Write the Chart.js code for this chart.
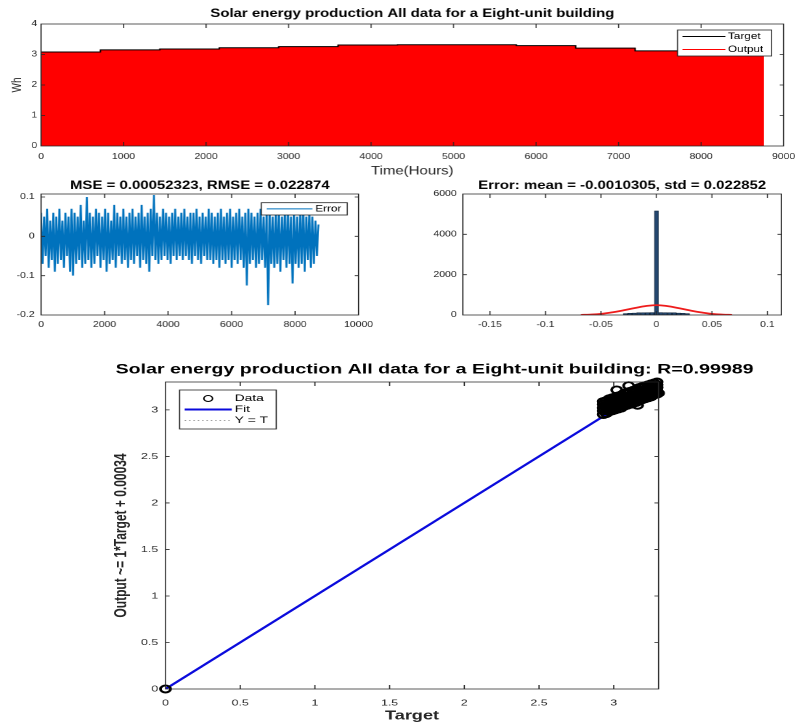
<!DOCTYPE html>
<html><head><meta charset="utf-8">
<script src="https://cdn.jsdelivr.net/npm/chart.js@4/dist/chart.umd.min.js"></script>
<style>
html,body{margin:0;padding:0;background:#fff;overflow:hidden;width:798px;height:725px}
.stage{position:absolute;left:0;top:0;height:725px;transform-origin:0 0}
#stage1{width:614px;transform:scaleX(1.3)}
#stage2{width:551px;transform:scaleX(1.45)}
.panel{position:absolute}
</style></head><body>
<div id="stage1" class="stage">
  <div class="panel" style="left:0px;top:0px;width:633.85px;height:180px"><canvas id="cA"></canvas></div>
  <div class="panel" style="left:0px;top:176px;width:306.92px;height:160px"><canvas id="cB"></canvas></div>
  <div class="panel" style="left:321.15px;top:176px;width:314.62px;height:160px"><canvas id="cC"></canvas></div>
</div>
<div id="stage2" class="stage">
  <div class="panel" style="left:44.48px;top:350px;width:510.36px;height:375px"><canvas id="cD"></canvas></div>
</div>
<script>
// ---------------- DATA ----------------
// Top panel: 30-day blocks (hours) and peak level of each block (Wh)
const blockStartHours = [0,720,1440,2160,2880,3600,4320,5040,5760,6480,7200,7920,8640,8760];
const targetBlockPeak = [3.08,3.15,3.18,3.22,3.26,3.31,3.32,3.32,3.29,3.21,3.12,3.11,3.09,3.09];
const outputBlockPeak = [3.07,3.14,3.18,3.21,3.25,3.30,3.31,3.31,3.28,3.20,3.11,3.10,3.08,3.08];
const topXTicks = [0,1000,2000,3000,4000,5000,6000,7000,8000,9000];
const topYTicks = [0,1,2,3,4];

// Error panel: one sample every 48 hours
const errStepHours = 48;
const errorValues = [
 0.06,-0.07,0.05,-0.05,0.07,-0.08,0.04,-0.06,0.06,-0.09,
 0.05,-0.07,0.07,-0.06,0.04,-0.08,0.06,-0.05,0.05,-0.09,
 0.07,-0.10,0.06,-0.07,0.05,-0.06,0.08,-0.08,0.04,-0.07,
 0.10,-0.06,0.06,-0.08,0.05,-0.07,0.07,-0.05,0.06,-0.08,
 0.05,-0.06,0.07,-0.09,0.06,-0.07,0.04,-0.06,0.08,-0.08,
 0.06,-0.05,0.05,-0.07,0.07,-0.06,0.05,-0.08,0.06,-0.06,
 0.07,-0.07,0.05,-0.05,0.06,-0.08,0.08,-0.06,0.05,-0.07,
 0.06,-0.09,0.07,-0.05,0.105,-0.06,0.06,-0.07,0.05,-0.06,
 0.07,-0.05,0.06,-0.06,0.05,-0.07,0.06,-0.05,0.07,-0.06,
 0.05,-0.05,0.06,-0.06,0.07,-0.05,0.05,-0.06,0.06,-0.07,
 0.06,-0.05,0.07,-0.06,0.05,-0.07,0.06,-0.05,0.05,-0.06,
 0.07,-0.06,0.06,-0.07,0.05,-0.06,0.06,-0.08,0.07,-0.06,
 0.05,-0.07,0.06,-0.06,0.07,-0.08,0.05,-0.06,0.06,-0.07,
 0.07,-0.06,0.05,-0.08,0.06,-0.125,0.07,-0.07,0.06,-0.06,
 0.05,-0.08,0.06,-0.07,0.07,-0.06,0.05,-0.08,0.06,-0.175,
 0.07,-0.07,0.05,-0.08,0.06,-0.07,0.07,-0.09,0.05,-0.06,
 0.06,-0.08,0.07,-0.07,0.05,-0.12,0.06,-0.07,0.05,-0.08,
 0.06,-0.07,0.07,-0.09,0.05,-0.06,0.06,-0.08,0.05,-0.07,
 0.04,-0.05,0.03
];
const errXTicks = [0,2000,4000,6000,8000,10000];
const errYTicks = [-0.2,-0.1,0,0.1];

// Error histogram
const histBinCenters = [-0.028,-0.024,-0.020,-0.016,-0.012,-0.008,-0.004,0,0.004,0.008,0.012,0.016,0.020,0.024,0.028];
const histCounts     = [70,85,95,105,110,115,120,5160,120,115,110,105,95,85,70];
const normCurveX = [-0.068,-0.06,-0.05,-0.04,-0.03,-0.02,-0.01,0,0.01,0.02,0.03,0.04,0.05,0.06,0.068];
const normCurveY = [5,18,55,130,230,340,440,490,440,340,230,130,55,18,5];
const histXTicks = [-0.15,-0.1,-0.05,0,0.05,0.1];
const histYTicks = [0,2000,4000,6000];

// Regression (Target, Output) pairs
const regTarget = [0,
 2.93,2.93,2.93,2.93,2.93, 2.95,2.95,2.95,2.95,2.95, 2.97,2.97,2.97,2.97,2.97,
 2.99,2.99,2.99,2.99,2.99, 3.01,3.01,3.01,3.01,3.01, 3.03,3.03,3.03,3.03,3.03,
 3.05,3.05,3.05,3.05,3.05, 3.07,3.07,3.07,3.07,3.07, 3.09,3.09,3.09,3.09,3.09,
 3.11,3.11,3.11,3.11,3.11, 3.13,3.13,3.13,3.13,3.13, 3.15,3.15,3.15,3.15,3.15,
 3.17,3.17,3.17,3.17,3.17, 3.19,3.19,3.19,3.19,3.19, 3.21,3.21,3.21,3.21,3.21,
 3.23,3.23,3.23,3.23,3.23, 3.25,3.25,3.25,3.25,3.25, 3.27,3.27,3.27,3.27,3.27,
 3.29,3.29,3.29,3.29,3.29,
 3.02,3.10,3.16,3.30];
const regOutput = [0,
 2.95,2.99,3.02,3.06,3.09, 2.96,3.00,3.03,3.07,3.10, 2.98,3.01,3.05,3.08,3.12,
 2.99,3.02,3.06,3.09,3.13, 3.00,3.03,3.07,3.10,3.14, 3.01,3.05,3.08,3.12,3.15,
 3.02,3.06,3.09,3.13,3.16, 3.04,3.07,3.11,3.14,3.18, 3.05,3.08,3.12,3.15,3.19,
 3.06,3.09,3.13,3.16,3.20, 3.07,3.11,3.14,3.18,3.21, 3.08,3.12,3.15,3.19,3.22,
 3.10,3.13,3.17,3.20,3.24, 3.11,3.14,3.18,3.21,3.25, 3.12,3.15,3.19,3.22,3.26,
 3.13,3.17,3.20,3.24,3.27, 3.14,3.18,3.21,3.25,3.28, 3.16,3.19,3.23,3.26,3.29,
 3.17,3.20,3.24,3.27,3.30,
 3.215,3.26,3.05,3.18];
const fitLineX = [0, 3.3];
const fitLineY = [0.00034, 3.30034];
const identLineX = [0, 3.3];
const identLineY = [0, 3.3];
const regTicks = [0,0.5,1,1.5,2,2.5,3];

// ---------------- HELPERS ----------------
const FONT = "'Liberation Sans', Arial, Helvetica, sans-serif";
const TXT = '#262626';

const matFrame = {
  id: 'matFrame',
  afterDraw(chart, args, o) {
    const {ctx, chartArea: a} = chart;
    const sx = chart.scales.x, sy = chart.scales.y;
    const tlv = o.tickV, tlh = o.tickH;
    ctx.save();
    ctx.strokeStyle = TXT;
    ctx.lineWidth = 0.8;
    ctx.beginPath();
    ctx.rect(a.left, a.top, a.right - a.left, a.bottom - a.top);
    sx.ticks.forEach(t => {
      const p = sx.getPixelForValue(t.value);
      ctx.moveTo(p, a.bottom); ctx.lineTo(p, a.bottom - tlv);
      ctx.moveTo(p, a.top); ctx.lineTo(p, a.top + tlv);
    });
    sy.ticks.forEach(t => {
      const p = sy.getPixelForValue(t.value);
      ctx.moveTo(a.left, p); ctx.lineTo(a.left + tlh, p);
      ctx.moveTo(a.right, p); ctx.lineTo(a.right - tlh, p);
    });
    ctx.stroke();
    ctx.restore();
  }
};

const boxLegend = {
  id: 'boxLegend',
  afterDatasetsDraw(chart, args, o) {
    if (!o || !o.items) return;
    const {ctx, chartArea: a} = chart;
    const x0 = o.anchor === 'right' ? a.right - o.dx - o.width : a.left + o.dx;
    const y0 = a.top + o.dy;
    const h = o.items.length * o.rowH + 2 * o.padY;
    ctx.save();
    ctx.fillStyle = '#fff';
    ctx.fillRect(x0, y0, o.width, h);
    ctx.strokeStyle = TXT; ctx.lineWidth = 0.8;
    ctx.strokeRect(x0, y0, o.width, h);
    o.items.forEach((idx, i) => {
      const ds = chart.data.datasets[idx];
      const cy = y0 + o.padY + o.rowH * (i + 0.5);
      const lx = x0 + o.lineX, lx2 = lx + o.lineLen;
      ctx.beginPath();
      if (ds.legendMark === 'circle') {
        ctx.setLineDash([]);
        ctx.arc((lx + lx2) / 2, cy, 3, 0, Math.PI * 2);
        ctx.strokeStyle = ds.borderColor; ctx.lineWidth = 1;
      } else {
        ctx.setLineDash(ds.borderDash || []);
        ctx.moveTo(lx, cy); ctx.lineTo(lx2, cy);
        ctx.strokeStyle = ds.borderColor; ctx.lineWidth = ds.legendWidth || ds.borderWidth;
      }
      ctx.stroke();
      ctx.setLineDash([]);
      ctx.fillStyle = '#000';
      ctx.font = o.fontSize + 'px ' + FONT;
      ctx.textAlign = 'left'; ctx.textBaseline = 'middle';
      ctx.fillText(ds.label, lx2 + o.gap, cy);
    });
    ctx.restore();
  }
};

function mkScale(min, max, ticksArr, fontSize, pad, fixedSize, title) {
  return {
    type: 'linear', min: min, max: max, offset: false,
    grid: {display: false, drawTicks: false},
    border: {display: false},
    afterBuildTicks: s => { s.ticks = ticksArr.map(v => ({value: v})); },
    afterFit: s => { if (s.isHorizontal()) s.height = fixedSize; else s.width = fixedSize; },
    ticks: {font: {family: FONT, size: fontSize}, color: TXT, padding: pad,
            autoSkip: false, maxRotation: 0, minRotation: 0, callback: v => String(v)},
    title: title || {display: false}
  };
}
// empty right-hand spacer axis (keeps the plot box where it belongs and the title centred)
function spacer(width) {
  return {type: 'linear', position: 'right', display: true, min: 0, max: 1,
          grid: {display: false, drawTicks: false}, border: {display: false},
          ticks: {display: false}, afterFit: s => { s.width = width; }};
}
function baseOpts(extra) {
  return Object.assign({
    responsive: true, maintainAspectRatio: false, animation: false,
    devicePixelRatio: 2, events: [],
    layout: {padding: 0}
  }, extra);
}
function titleOpt(text, size, pt, pb) {
  return {display: true, text: text, color: '#000',
          font: {family: FONT, size: size, weight: 'bold'}, padding: {top: pt, bottom: pb}};
}

// ---------------- PANEL A ----------------
new Chart(document.getElementById('cA'), {
  type: 'line',
  data: {datasets: [
    {label: 'Target', data: blockStartHours.map((h, i) => ({x: h, y: targetBlockPeak[i]})),
     borderColor: '#000000', borderWidth: 1, pointRadius: 0, stepped: true, fill: false},
    {label: 'Output', data: blockStartHours.map((h, i) => ({x: h, y: outputBlockPeak[i]})),
     borderColor: '#ff0000', backgroundColor: '#ff0000', borderWidth: 1, pointRadius: 0, stepped: true, fill: 'origin'}
  ]},
  options: baseOpts({
    scales: {
      x: mkScale(0, 9000, topXTicks, 8, 6, 34,
        {display: true, text: 'Time(Hours)', color: TXT, font: {family: FONT, size: 11.5}, padding: {top: 0, bottom: 2}}),
      y: mkScale(0, 4, topYTicks, 8, 3, 31.54,
        {display: true, text: 'Wh', color: TXT, font: {family: FONT, size: 10}, padding: {top: 7, bottom: 0}}),
      yR: spacer(31.54)
    },
    plugins: {
      legend: {display: false}, tooltip: {enabled: false},
      title: titleOpt('Solar energy production All data for a Eight-unit building', 11.5, 7.1, 3.1),
      boxLegend: {anchor: 'right', dx: 9.2, dy: 6, width: 72.3, rowH: 13, padY: 0, lineX: 3.8, lineLen: 33, gap: 2, fontSize: 9, items: [0, 1]},
      matFrame: {tickV: 4, tickH: 3}
    }
  }),
  plugins: [boxLegend, matFrame]
});

// ---------------- PANEL B ----------------
new Chart(document.getElementById('cB'), {
  type: 'line',
  data: {datasets: [
    {label: 'Error', data: errorValues.map((v, i) => ({x: i * errStepHours, y: v})),
     borderColor: '#0072BD', borderWidth: 1.5, legendWidth: 1, pointRadius: 0, fill: false, tension: 0}
  ]},
  options: baseOpts({
    scales: {
      x: mkScale(0, 10000, errXTicks, 8, 5.2, 21),
      y: mkScale(-0.2, 0.1076, errYTicks, 8, 5, 31.54),
      yR: spacer(31.54)
    },
    plugins: {
      legend: {display: false}, tooltip: {enabled: false},
      title: titleOpt('MSE = 0.00052323, RMSE = 0.022874', 11.5, 3.1, 1.1),
      boxLegend: {anchor: 'right', dx: 8.7, dy: 8.7, width: 66, rowH: 12.3, padY: 0, lineX: 4.2, lineLen: 35, gap: 2.3, fontSize: 9, items: [0]},
      matFrame: {tickV: 4, tickH: 3}
    }
  }),
  plugins: [boxLegend, matFrame]
});

// ---------------- PANEL C ----------------
new Chart(document.getElementById('cC'), {
  type: 'bar',
  data: {datasets: [
    {type: 'line', label: 'Fit', data: normCurveX.map((x, i) => ({x: x, y: normCurveY[i]})),
     borderColor: '#ee1c1c', borderWidth: 1.8, pointRadius: 0, fill: false, tension: 0.4, order: 0},
    {type: 'bar', label: 'Instances', data: histBinCenters.map((x, i) => ({x: x, y: histCounts[i]})),
     backgroundColor: '#24476f', borderColor: '#0e2238', borderWidth: 0.6, barThickness: 3, order: 1}
  ]},
  options: baseOpts({
    scales: {
      x: mkScale(-0.1744, 0.1126, histXTicks, 8, 5.2, 21),
      y: mkScale(0, 6000, histYTicks, 8, 4.8, 35),
      yR: spacer(35)
    },
    plugins: {
      legend: {display: false}, tooltip: {enabled: false},
      title: titleOpt('Error: mean = -0.0010305, std = 0.022852', 11.5, 3.1, 1.1),
      matFrame: {tickV: 4, tickH: 3}
    }
  }),
  plugins: [matFrame]
});

// ---------------- PANEL D ----------------
new Chart(document.getElementById('cD'), {
  type: 'scatter',
  data: {datasets: [
    {label: 'Data', legendMark: 'circle', data: regTarget.map((t, i) => ({x: t, y: regOutput[i]})),
     borderColor: '#000000', backgroundColor: 'rgba(0,0,0,0)', pointRadius: 3.5, borderWidth: 1.9, showLine: false, clip: 6, order: 0},
    {label: 'Fit', type: 'line', data: fitLineX.map((x, i) => ({x: x, y: fitLineY[i]})),
     borderColor: '#0a0adc', borderWidth: 2, pointRadius: 0, fill: false, order: 1},
    {label: 'Y = T', type: 'line', data: identLineX.map((x, i) => ({x: x, y: identLineY[i]})),
     borderColor: '#9a9a9a', borderWidth: 1, borderDash: [1, 2], pointRadius: 0, fill: false, order: 2}
  ]},
  options: baseOpts({
    scales: {
      x: mkScale(0, 3.3, regTicks, 8.5, 8.9, 36,
        {display: true, text: 'Target', color: TXT, font: {family: FONT, size: 12.5, weight: 'bold'}, padding: {top: 0, bottom: 1.5}}),
      y: mkScale(0, 3.3, regTicks, 8.5, 5, 70,
        {display: true, text: 'Output ~= 1*Target + 0.00034', color: TXT, font: {family: FONT, size: 12, weight: 'bold'}, padding: {top: 32.5, bottom: 0}}),
      yR: spacer(101.05)
    },
    plugins: {
      legend: {display: false}, tooltip: {enabled: false},
      title: titleOpt('Solar energy production All data for a Eight-unit building: R=0.99989', 13.5, 11.9, 3.9),
      boxLegend: {anchor: 'left', dx: 9.7, dy: 8, width: 66.5, rowH: 11, padY: 3, lineX: 3.5, lineLen: 32.4, gap: 2, fontSize: 9.5, items: [0, 1, 2]},
      matFrame: {tickV: 4, tickH: 2.8}
    }
  }),
  plugins: [boxLegend, matFrame]
});
</script>
</body></html>
